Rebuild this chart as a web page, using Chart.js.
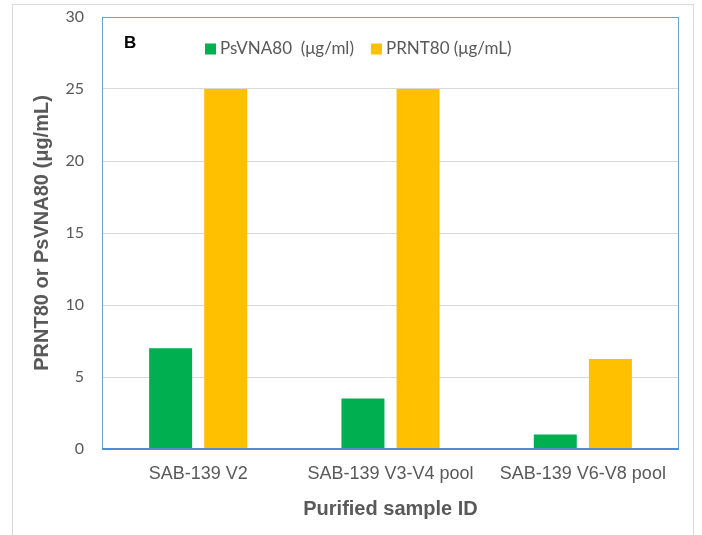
<!DOCTYPE html>
<html>
<head>
<meta charset="utf-8">
<script src="https://cdn.jsdelivr.net/npm/chart.js@4.4.0/dist/chart.umd.min.js"></script>
<style>
    html, body { margin: 0; padding: 0; background: #fff; }
    #wrap { width: 702px; height: 535px; }
</style>
</head>
<body>
<div id="wrap"><canvas id="chart"></canvas></div>
<script>
const categories = ['SAB-139 V2', 'SAB-139 V3-V4 pool', 'SAB-139 V6-V8 pool'];
const psvnaValues = [7, 3.5, 1];
const prntValues = [25, 25, 6.25];
const seriesNames = ['PsVNA80  (μg/ml)', 'PRNT80 (μg/mL)'];
const yTitle = 'PRNT80 or PsVNA80 (μg/mL)';
const xTitle = 'Purified sample ID';
const panelLetter = 'B';

const textGray = '#595959';
const frameBlue = '#6e9fd6';

// outer frame, plot frame, panel letter and the in-plot legend
const decorations = {
    id: 'decorations',
    beforeDraw(chart) {
        const c = chart.ctx;
        c.save();
        c.strokeStyle = '#d9d9d9';
        c.lineWidth = 1;
        c.strokeRect(12.5, 4.5, 681, 600);
        c.restore();
    },
    afterDatasetsDraw(chart) {
        const {ctx: c, chartArea: a} = chart;
        c.save();
        c.strokeStyle = frameBlue;
        c.lineWidth = 1;
        c.strokeRect(Math.round(a.left) + 0.5, Math.round(a.top) + 0.5, Math.round(a.right - a.left) - 1, Math.round(a.bottom - a.top));
        c.strokeStyle = '#4f8ed3';
        c.lineWidth = 2;
        c.beginPath();
        c.moveTo(a.left, a.bottom);
        c.lineTo(a.right, a.bottom);
        c.stroke();

        c.fillStyle = '#000';
        c.font = 'bold 17px "Liberation Sans"';
        c.textBaseline = 'middle';
        c.fillText(panelLetter, a.left + 22, 43);

        // legend, one row
        c.font = '17px Lato';
        let x = a.left + 103;
        const y = 49;
        chart.data.datasets.forEach(ds => {
            c.fillStyle = ds.backgroundColor;
            c.fillRect(x, y - 5.5, 11, 11);
            c.fillStyle = textGray;
            c.fillText(ds.label, x + 15, y);
            x += 15 + c.measureText(ds.label).width + 17;
        });
        c.restore();
    }
};

window.addEventListener('DOMContentLoaded', function () {
    const ctx = document.getElementById('chart');

    new Chart(ctx, {
        type: 'bar',
        data: {
            labels: categories,
            datasets: [
                {
                    label: seriesNames[0],
                    data: psvnaValues,
                    backgroundColor: '#00b050',
                    categoryPercentage: 0.573,
                    barPercentage: 0.78,
                },
                {
                    label: seriesNames[1],
                    data: prntValues,
                    backgroundColor: '#ffc000',
                    categoryPercentage: 0.573,
                    barPercentage: 0.78,
                }
            ]
        },
        options: {
            responsive: true,
            maintainAspectRatio: false,
            animation: false,
            devicePixelRatio: 1,
            layout: {
                padding: {top: 17, right: 23, left: 0, bottom: 0}
            },
            scales: {
                x: {
                    afterFit: s => { s.height = 86; },
                    grid: {display: false, drawTicks: false},
                    border: {display: false},
                    ticks: {
                        color: textGray,
                        padding: 14,
                        font: {family: '"Liberation Sans"', size: 18}
                    },
                    title: {
                        display: true,
                        text: xTitle,
                        color: textGray,
                        font: {family: '"Liberation Sans"', size: 20, weight: 'bold'},
                        padding: {top: 0, bottom: 14}
                    }
                },
                y: {
                    min: 0,
                    max: 30,
                    afterFit: s => {
                        s.width = 102;
                        s.paddingTop = 0;
                        s.paddingBottom = 0;
                    },
                    grid: {color: '#d9d9d9', drawTicks: false},
                    border: {display: false},
                    ticks: {
                        stepSize: 5,
                        color: textGray,
                        padding: 18,
                        font: {family: 'Lato', size: 16}
                    },
                    title: {
                        display: true,
                        text: yTitle,
                        color: textGray,
                        font: {family: '"Liberation Sans"', size: 20, weight: 'bold'},
                        padding: {top: 30, bottom: 0}
                    }
                }
            },
            plugins: {
                legend: {display: false},
                tooltip: {enabled: false}
            }
        },
        plugins: [decorations]
    })
})
</script>
</body>
</html>
